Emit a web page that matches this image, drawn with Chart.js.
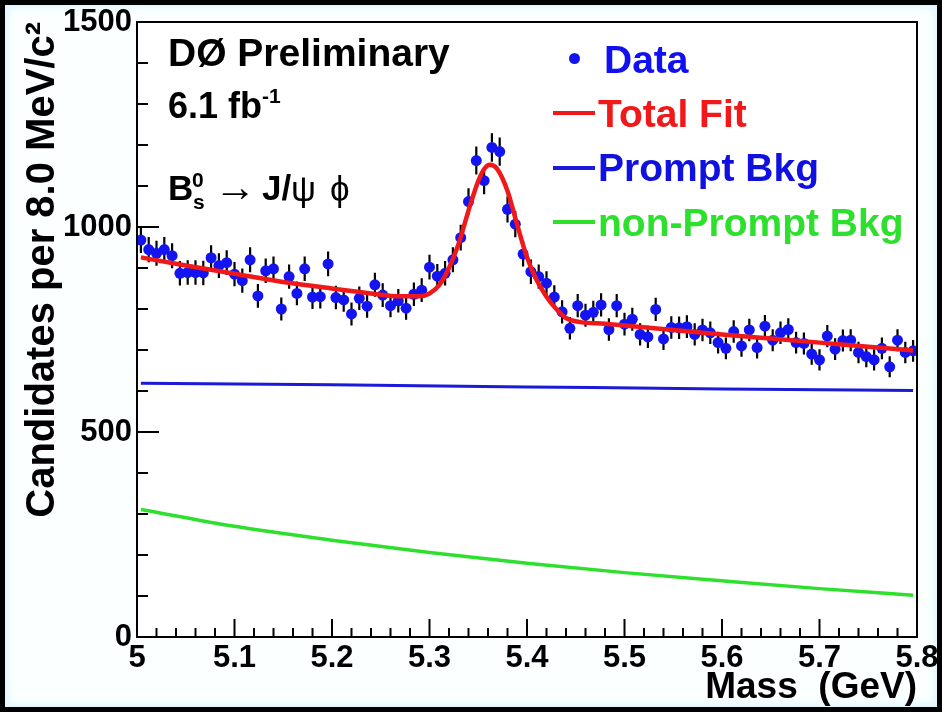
<!DOCTYPE html>
<html>
<head>
<meta charset="utf-8">
<script src="https://cdn.jsdelivr.net/npm/chart.js@4.4.0/dist/chart.umd.min.js"></script>
<style>
  html, body { margin: 0; padding: 0; background: #000; }
  #frame {
    position: absolute; left: 0; top: 0; width: 942px; height: 712px;
    box-sizing: border-box; border: 5px solid #000; background: #fbffff;
    box-shadow: inset 0 0 7px 3px #dcf6ff;
  }
  #c { position: absolute; left: 0; top: 0; }
  .ann {
    position: absolute; font-family: "Liberation Sans", Arial, Helvetica, sans-serif;
    font-weight: bold; line-height: 1; white-space: nowrap; color: #000;
  }
  .sym { font-weight: normal; }
  .mark { position: absolute; }
</style>
</head>
<body>
<div id="frame"><canvas id="c" width="932" height="702"></canvas></div>

<div class="ann" style="left:168px;top:33px;font-size:39px;">DØ Preliminary</div>
<div class="ann" style="left:168px;top:88px;font-size:36px;">6.1 fb<span style="font-size:21px;position:relative;top:-15px;">-1</span></div>
<div class="ann" style="left:168px;top:170px;font-size:35px;">B</div>
<div class="ann" style="left:192px;top:169px;font-size:21px;">0</div>
<div class="ann" style="left:193px;top:191px;font-size:21px;">s</div>
<div class="ann sym" style="left:214px;top:166px;font-size:42px;">→</div>
<div class="ann" style="left:262px;top:170px;font-size:35px;">J/</div>
<div class="ann sym" style="left:291px;top:171px;font-size:35px;">ψ</div>
<div class="ann sym" style="left:330px;top:171px;font-size:35px;">ϕ</div>

<div class="mark" style="left:569px;top:53px;width:11px;height:11px;border-radius:50%;background:#1414f0;"></div>
<div class="ann" style="left:604px;top:40px;font-size:39px;color:#1010f0;">Data</div>
<div class="mark" style="left:553px;top:111px;width:42px;height:4px;background:#f01818;"></div>
<div class="ann" style="left:598px;top:94px;font-size:39px;color:#f01818;">Total Fit</div>
<div class="mark" style="left:553px;top:166px;width:42px;height:4px;background:#1a1ad8;"></div>
<div class="ann" style="left:598px;top:148px;font-size:39px;color:#1010e0;">Prompt Bkg</div>
<div class="mark" style="left:553px;top:220px;width:42px;height:4px;background:#2ee02e;"></div>
<div class="ann" style="left:598px;top:203px;font-size:39px;color:#2ee02e;">non-Prompt Bkg</div>

<script>
// histogram: 100 bins of 8 MeV between 5.0 and 5.8 GeV
const massRange = [5.0, 5.8];
const binWidth = 0.008;
const counts = [
  968, 945, 936, 945, 930, 887, 889, 889, 888, 925,
  906, 913, 885, 869, 920, 832, 893, 898, 800, 879,
  838, 898, 829, 830, 910, 828, 822, 788, 826, 807,
  859, 834, 808, 820, 802, 836, 846, 902, 880, 887,
  920, 974, 1062, 1162, 1113, 1194, 1184, 1043, 1007, 934,
  891, 879, 863, 829, 793, 753, 808, 785, 792, 810,
  750, 808, 763, 775, 738, 732, 799, 727, 755, 754,
  757, 738, 749, 742, 718, 704, 745, 710, 749, 706,
  758, 724, 742, 750, 718, 716, 690, 676, 734, 702,
  723, 724, 694, 684, 676, 704, 659, 724, 694, 698
];
const binCenters = counts.map((_, i) => massRange[0] + binWidth * (i + 0.5));

// fit curves
const fitMass = [5.004, 5.05, 5.10, 5.15, 5.20, 5.24, 5.27, 5.29, 5.30, 5.31, 5.32, 5.33, 5.34, 5.35,
  5.357, 5.362, 5.369, 5.38, 5.39, 5.40, 5.41, 5.42, 5.43, 5.44, 5.455, 5.48, 5.50, 5.55, 5.60,
  5.65, 5.70, 5.75, 5.796];
const fitTotal = [926, 906, 886, 866, 850, 838, 831, 831, 838, 858, 900, 960, 1040, 1112,
  1144, 1152, 1143, 1088, 1005, 926, 870, 830, 800, 778, 768, 764, 760, 749, 738,
  728, 718, 708, 699];

const promptMass = [5.004, 5.2, 5.4, 5.6, 5.796];
const promptBkg = [619, 615, 610, 605, 601];

const nonPromptMass = [5.004, 5.1, 5.2, 5.3, 5.4, 5.5, 5.6, 5.7, 5.796];
const nonPromptBkg = [311, 270, 236, 206, 180, 157, 137, 118, 102];

const xTicks = ["5", "5.1", "5.2", "5.3", "5.4", "5.5", "5.6", "5.7", "5.8"];
const yTicks = ["0", "500", "1000", "1500"];

const FONT = "'Liberation Sans', Arial, Helvetica, sans-serif";
const pts = (xs, ys) => xs.map((x, i) => ({ x: x, y: ys[i] }));

const plotBg = {
  id: "plotBg",
  beforeDraw(chart) {
    const { ctx, chartArea: a } = chart;
    ctx.save();
    ctx.fillStyle = "#ffffff";
    ctx.fillRect(a.left, a.top, a.right - a.left, a.bottom - a.top);
    ctx.restore();
  }
};

const errorBars = {
  id: "errorBars",
  beforeDatasetsDraw(chart) {
    const { ctx, scales: { x, y } } = chart;
    ctx.save();
    ctx.strokeStyle = "#000";
    ctx.lineWidth = 2.2;
    ctx.beginPath();
    counts.forEach((n, i) => {
      const px = x.getPixelForValue(binCenters[i]);
      const e = Math.sqrt(n);
      ctx.moveTo(px, y.getPixelForValue(n - e));
      ctx.lineTo(px, y.getPixelForValue(n + e));
    });
    ctx.stroke();
    ctx.restore();
  }
};

// ROOT-style frame with ticks pointing inwards
const frameTicks = {
  id: "frameTicks",
  afterDatasetsDraw(chart) {
    const { ctx, chartArea: a, scales: { x, y } } = chart;
    ctx.save();
    ctx.strokeStyle = "#000";
    ctx.lineWidth = 2;
    ctx.strokeRect(a.left, a.top, a.right - a.left, a.bottom - a.top);
    ctx.beginPath();
    for (let k = 0; k <= 15; k++) {
      const py = y.getPixelForValue(k * 100);
      const len = k % 5 === 0 ? 22 : 11;
      ctx.moveTo(a.left, py);
      ctx.lineTo(a.left + len, py);
    }
    for (let k = 0; k <= 40; k++) {
      const px = x.getPixelForValue(massRange[0] + k * 0.02);
      const len = k % 5 === 0 ? 18 : 9;
      ctx.moveTo(px, a.bottom);
      ctx.lineTo(px, a.bottom - len);
    }
    ctx.stroke();
    ctx.restore();
  }
};

const ctx = document.getElementById("c").getContext("2d");
new Chart(ctx, {
  type: "scatter",
  data: {
    datasets: [
      {
        label: "Total Fit",
        data: pts(fitMass, fitTotal),
        showLine: true,
        borderColor: "#f01818",
        borderWidth: 4.5,
        pointRadius: 0,
        cubicInterpolationMode: "monotone"
      },
      {
        label: "Prompt Bkg",
        data: pts(promptMass, promptBkg),
        showLine: true,
        borderColor: "#1a1ad8",
        borderWidth: 3,
        pointRadius: 0,
        cubicInterpolationMode: "monotone"
      },
      {
        label: "non-Prompt Bkg",
        data: pts(nonPromptMass, nonPromptBkg),
        showLine: true,
        borderColor: "#2ee02e",
        borderWidth: 3.5,
        pointRadius: 0,
        cubicInterpolationMode: "monotone"
      },
      {
        label: "Data",
        data: pts(binCenters, counts),
        showLine: false,
        pointRadius: 5.5,
        pointBorderWidth: 0,
        pointBackgroundColor: "#1414f0"
      }
    ]
  },
  options: {
    responsive: false,
    animation: false,
    layout: { padding: { left: 0, right: 20, top: 17, bottom: 0 } },
    plugins: { legend: { display: false }, tooltip: { enabled: false } },
    scales: {
      x: {
        type: "linear",
        min: 5.0,
        max: 5.8,
        grid: { display: false, drawTicks: false },
        border: { display: false },
        ticks: {
          stepSize: 0.1,
          padding: 3,
          maxRotation: 0,
          autoSkip: false,
          color: "#000",
          font: { family: FONT, size: 31, weight: "bold" },
          callback: (v) => xTicks[Math.round((v - 5.0) * 10)]
        },
        title: {
          display: true,
          text: "Mass  (GeV)",
          align: "end",
          color: "#000",
          font: { family: FONT, size: 37, weight: "bold" },
          padding: { top: 0, bottom: -3 }
        },
        afterFit(s) { s.height = 70; s.paddingLeft = 0; s.paddingRight = 0; }
      },
      y: {
        min: 0,
        max: 1500,
        grid: { display: false, drawTicks: false },
        border: { display: false },
        ticks: {
          stepSize: 500,
          padding: 5,
          color: "#000",
          font: { family: FONT, size: 31, weight: "bold" },
          callback: (v) => yTicks[Math.round(v / 500)]
        },
        title: {
          display: true,
          text: "Candidates per 8.0 MeV/c²",
          align: "end",
          color: "#000",
          font: { family: FONT, size: 40, weight: "bold" },
          padding: { top: 14, bottom: 0 }
        },
        afterFit(s) { s.width = 132; s.paddingTop = 0; s.paddingBottom = 0; }
      }
    }
  },
  plugins: [plotBg, errorBars, frameTicks]
});
</script>
</body>
</html>
